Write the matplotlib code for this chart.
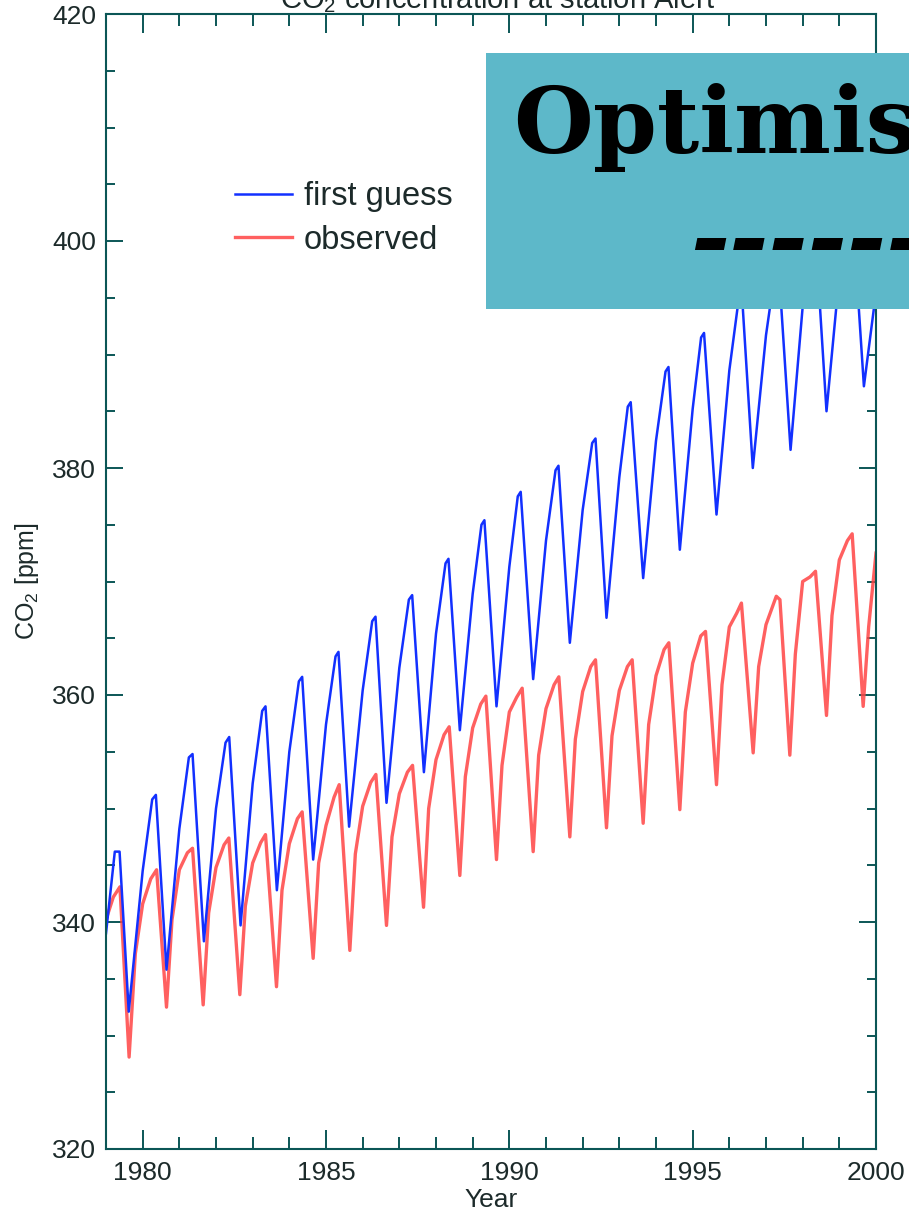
import matplotlib
matplotlib.use("Agg")
import matplotlib.pyplot as plt
from matplotlib.patches import Rectangle
from matplotlib.ticker import MultipleLocator
from matplotlib import font_manager

# first guess (blue): per year -> rise, peak start, peak, trough
blue_t = [1979.00, 1979.15, 1979.24, 1979.37, 1979.62,
          1980.00, 1980.26, 1980.36, 1980.65,
          1981.00, 1981.26, 1981.36, 1981.67,
          1982.00, 1982.26, 1982.36, 1982.67,
          1983.00, 1983.26, 1983.35, 1983.66,
          1984.00, 1984.26, 1984.35, 1984.65,
          1985.00, 1985.26, 1985.34, 1985.63,
          1986.00, 1986.26, 1986.35, 1986.65,
          1987.00, 1987.26, 1987.35, 1987.67,
          1988.00, 1988.26, 1988.34, 1988.65,
          1989.00, 1989.24, 1989.32, 1989.65,
          1990.00, 1990.23, 1990.31, 1990.65,
          1991.00, 1991.26, 1991.34, 1991.65,
          1992.00, 1992.26, 1992.35, 1992.65,
          1993.00, 1993.23, 1993.31, 1993.65,
          1994.00, 1994.26, 1994.34, 1994.65,
          1995.00, 1995.23, 1995.31, 1995.65,
          1996.00, 1996.26, 1996.34, 1996.64,
          1997.00, 1997.26, 1997.34, 1997.67,
          1998.00, 1998.26, 1998.34, 1998.65,
          1999.00, 1999.26, 1999.34, 1999.67,
          2000.00]
blue_v = [339.0, 343.5, 346.2, 346.2, 332.1,
          344.5, 350.8, 351.2, 335.8,
          348.2, 354.5, 354.8, 338.3,
          350.0, 355.8, 356.3, 339.7,
          352.2, 358.6, 359.0, 342.8,
          355.0, 361.2, 361.6, 345.5,
          357.4, 363.4, 363.8, 348.4,
          360.4, 366.5, 366.9, 350.5,
          362.4, 368.4, 368.8, 353.2,
          365.4, 371.6, 372.0, 356.9,
          368.9, 375.0, 375.4, 359.0,
          371.3, 377.5, 377.9, 361.4,
          373.6, 379.8, 380.2, 364.6,
          376.3, 382.2, 382.6, 366.8,
          379.2, 385.4, 385.8, 370.3,
          382.4, 388.5, 388.9, 372.8,
          385.2, 391.5, 391.9, 375.9,
          388.6, 395.0, 395.5, 380.0,
          391.7, 397.6, 398.0, 381.6,
          394.2, 400.6, 401.0, 385.0,
          397.0, 403.0, 403.5, 387.2,
          395.5]

# observed (red): per year -> rise, pre-peak, peak, trough, quick rise
red_t = [1979.00, 1979.20, 1979.38, 1979.63, 1979.80,
         1980.00, 1980.22, 1980.38, 1980.65, 1980.80,
         1981.00, 1981.22, 1981.36, 1981.65, 1981.80,
         1982.00, 1982.22, 1982.35, 1982.65, 1982.80,
         1983.00, 1983.22, 1983.35, 1983.65, 1983.80,
         1984.00, 1984.22, 1984.35, 1984.65, 1984.80,
         1985.00, 1985.22, 1985.36, 1985.65, 1985.80,
         1986.00, 1986.22, 1986.36, 1986.65, 1986.80,
         1987.00, 1987.22, 1987.36, 1987.66, 1987.80,
         1988.00, 1988.22, 1988.36, 1988.65, 1988.80,
         1989.00, 1989.22, 1989.36, 1989.65, 1989.80,
         1990.00, 1990.20, 1990.35, 1990.65, 1990.80,
         1991.00, 1991.22, 1991.35, 1991.65, 1991.80,
         1992.00, 1992.22, 1992.35, 1992.65, 1992.80,
         1993.00, 1993.22, 1993.35, 1993.65, 1993.80,
         1994.00, 1994.22, 1994.35, 1994.65, 1994.80,
         1995.00, 1995.22, 1995.35, 1995.65, 1995.80,
         1996.00, 1996.20, 1996.33, 1996.65, 1996.80,
         1997.00, 1997.28, 1997.38, 1997.65, 1997.80,
         1998.00, 1998.20, 1998.35, 1998.65, 1998.80,
         1999.00, 1999.22, 1999.35, 1999.65, 1999.80,
         2000.00]
red_v = [340.2, 342.2, 343.1, 328.1, 337.2,
         341.6, 343.8, 344.6, 332.5, 340.2,
         344.6, 346.1, 346.5, 332.7, 340.8,
         344.8, 346.8, 347.4, 333.6, 341.4,
         345.2, 347.0, 347.7, 334.3, 342.8,
         346.9, 349.1, 349.7, 336.8, 345.2,
         348.5, 351.0, 352.1, 337.5, 346.0,
         350.2, 352.3, 353.0, 339.7, 347.5,
         351.3, 353.2, 353.8, 341.3, 350.0,
         354.3, 356.5, 357.2, 344.1, 352.8,
         357.1, 359.2, 359.9, 345.5, 353.8,
         358.5, 359.8, 360.6, 346.2, 354.7,
         358.8, 360.9, 361.6, 347.5, 356.1,
         360.3, 362.5, 363.1, 348.3, 356.4,
         360.4, 362.5, 363.1, 348.7, 357.4,
         361.7, 364.0, 364.6, 349.9, 358.5,
         362.8, 365.2, 365.6, 352.1, 360.9,
         366.0, 367.2, 368.1, 354.9, 362.5,
         366.2, 368.7, 368.4, 354.7, 363.6,
         370.0, 370.4, 370.9, 358.2, 367.0,
         371.9, 373.6, 374.2, 359.0, 366.0,
         372.5]

names = {f.name for f in font_manager.fontManager.ttflist}
sans = "Liberation Sans Narrow" if "Liberation Sans Narrow" in names else "Liberation Sans"
plt.rcParams["font.family"] = [sans, "DejaVu Sans"]
plt.rcParams["mathtext.fontset"] = "custom"
plt.rcParams["mathtext.rm"] = sans

txt_col = "#1c2a2a"
ax_col = "#0b5656"

fig = plt.figure(figsize=(9.09, 12.17), dpi=100)
ax = fig.add_axes([106 / 909, 1 - 1149 / 1217, 770 / 909, 1135 / 1217])

ax.plot(red_t, red_v, color="#ff4444", lw=2.4, alpha=0.85, label="observed")
ax.plot(blue_t, blue_v, color="#1230ff", lw=1.8, label="first guess")

ax.set_xlim(1979, 2000)
ax.set_ylim(320, 420)
ax.xaxis.set_major_locator(MultipleLocator(5))
ax.xaxis.set_minor_locator(MultipleLocator(1))
ax.yaxis.set_major_locator(MultipleLocator(20))
ax.yaxis.set_minor_locator(MultipleLocator(5))

ax.tick_params(which="both", direction="in", top=True, right=True,
               color=ax_col, labelcolor=txt_col, width=1.4, labelsize=19)
ax.tick_params(axis="x", which="major", length=14, pad=9)
ax.tick_params(axis="x", which="minor", length=8.5)
ax.tick_params(axis="y", which="major", length=12, pad=7)
ax.tick_params(axis="y", which="minor", length=6.5)
for s in ax.spines.values():
    s.set_color(ax_col)
    s.set_linewidth(1.5)

ax.set_xlabel("Year", fontsize=19, color=txt_col, labelpad=2)
ax.set_ylabel("CO$_2$ [ppm]", fontsize=18, color=txt_col, labelpad=8)

h, l = ax.get_legend_handles_labels()
ax.legend(h[::-1], l[::-1], loc="upper left", bbox_to_anchor=(0.146, 0.867),
          frameon=False, fontsize=23.5, handlelength=1.75, handletextpad=0.36,
          labelspacing=0.38, borderpad=0, labelcolor=txt_col)

# title is cut by the top edge of the picture
fig.text(0.547, 1 - 8 / 1217, "CO$_2$ concentration at station Alert",
         ha="center", va="baseline", fontsize=21, color=txt_col)

# overlay box
fig.add_artist(Rectangle((486 / 909, 1 - 309 / 1217), 1, 256 / 1217,
                         transform=fig.transFigure, facecolor="#5db8c9",
                         edgecolor="none", zorder=5))
fig.text(513 / 909, 1 - 153 / 1217, "Optimisation", fontsize=66,
         family="DejaVu Serif", weight="bold", color="black",
         ha="left", va="baseline", zorder=6)
fig.text(690 / 909, 1 - 243 / 1217, "-" * 12, fontsize=68,
         family="DejaVu Serif", weight="bold", style="italic", color="black",
         ha="left", va="center", zorder=6)

fig.savefig("out.png", dpi=100)
